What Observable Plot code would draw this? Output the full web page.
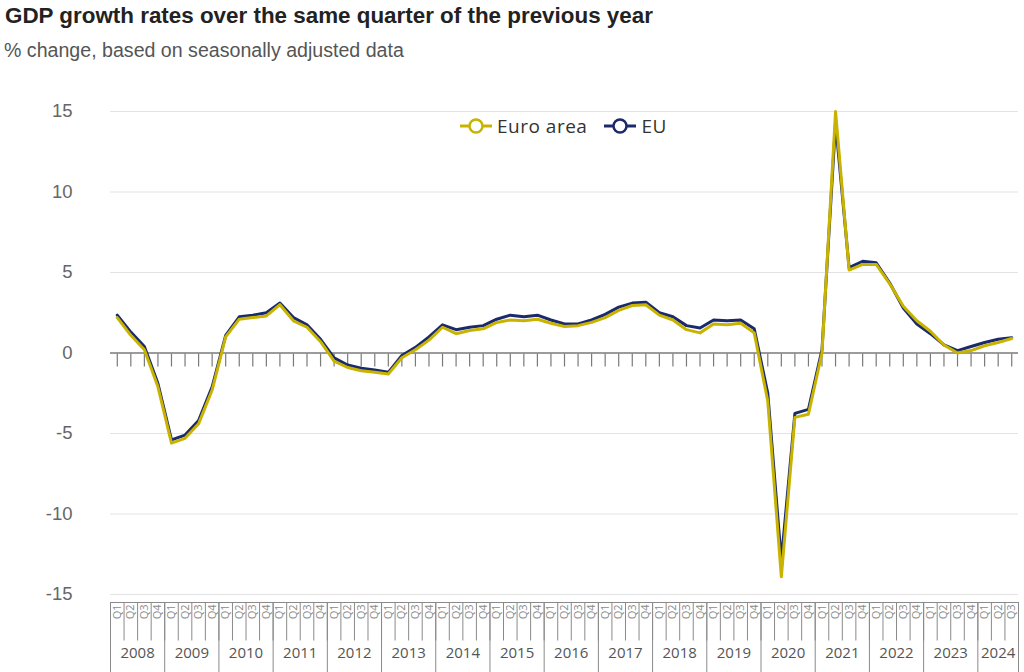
<!DOCTYPE html>
<html>
<head>
<meta charset="utf-8">
<script src="https://cdn.jsdelivr.net/npm/d3@7"></script>
<script src="https://cdn.jsdelivr.net/npm/@observablehq/plot@0.6"></script>
<style>
  html, body { margin: 0; padding: 0; background: #fff; }
  #wrap { position: relative; width: 1024px; height: 672px; overflow: hidden; font-family: "Liberation Sans", Arial, sans-serif; }
  #title { position: absolute; left: 5px; top: 3px; font-size: 22.4px; font-weight: bold; color: #222; white-space: nowrap; }
  #subtitle { position: absolute; left: 4px; top: 39px; font-size: 19.6px; color: #555; white-space: nowrap; }
  #main { position: absolute; left: 0; top: 70px; }
  #bottom { position: absolute; left: 0; top: 602px; }
  #legend { position: absolute; top: 113px; left: 459px; display: flex; align-items: center; font-family: "Open Sans", sans-serif; font-size: 19px; letter-spacing: 0.5px; color: #333; white-space: nowrap; }
  #legend .item { display: flex; align-items: center; margin-right: 16px; }
  #legend svg { margin-right: 4px; }
</style>
</head>
<body>
<div id="wrap">
  <div id="title">GDP growth rates over the same quarter of the previous year</div>
  <div id="subtitle">% change, based on seasonally adjusted data</div>
  <div id="main"></div>
  <div id="bottom"></div>
  <div id="legend"></div>
</div>
<script>
// ---- data ----
const years = [2008, 2009, 2010, 2011, 2012, 2013, 2014, 2015, 2016, 2017, 2018, 2019, 2020, 2021, 2022, 2023, 2024];
const quarterNames = ["Q1", "Q2", "Q3", "Q4"];
const lastYearQuarters = 3;

const seriesNames = ["Euro area", "EU"];
const seriesColors = ["#c8b400", "#1b2a6b"];

const euroArea = [
  2.2, 1.1, 0.2, -2.1,
  -5.6, -5.3, -4.4, -2.3,
  1.0, 2.1, 2.2, 2.3,
  3.0, 2.0, 1.6, 0.7,
  -0.5, -0.9, -1.1, -1.2,
  -1.3, -0.3, 0.2, 0.8,
  1.6, 1.2, 1.4, 1.5,
  1.9, 2.05, 2.0, 2.1,
  1.85, 1.65, 1.7, 1.9,
  2.2, 2.65, 2.95, 3.0,
  2.35, 2.05, 1.45, 1.25,
  1.8, 1.75, 1.85, 1.25,
  -3.0, -13.9, -4.0, -3.8,
  0.0, 15.0, 5.15, 5.5,
  5.5, 4.3, 2.9, 2.0,
  1.35, 0.5, 0.0, 0.15,
  0.45, 0.65, 0.9
];
const eu = [
  2.35, 1.3, 0.4, -1.9,
  -5.4, -5.1, -4.2, -2.1,
  1.1, 2.25, 2.35, 2.5,
  3.1, 2.2, 1.75, 0.85,
  -0.3, -0.75, -0.95, -1.05,
  -1.2, -0.15, 0.35, 1.0,
  1.75, 1.45, 1.6, 1.7,
  2.1, 2.35, 2.25, 2.35,
  2.05, 1.8, 1.8, 2.05,
  2.4, 2.85, 3.1, 3.15,
  2.5, 2.25, 1.7, 1.55,
  2.05, 2.0, 2.05, 1.5,
  -2.5, -12.9, -3.75, -3.5,
  0.2, 14.3, 5.3, 5.7,
  5.6, 4.35, 2.8, 1.8,
  1.2, 0.5, 0.15, 0.4,
  0.65, 0.85, 0.95
];
const yTicks = [-15, -10, -5, 0, 5, 10, 15];

// ---- build tables ----
const periods = [];
years.forEach((y, yi) => {
  const n = yi === years.length - 1 ? lastYearQuarters : 4;
  for (let q = 0; q < n; q++) periods.push({year: y, q: quarterNames[q]});
});
periods.forEach((p, i) => { p.i = i; p.ea = euroArea[i]; p.eu = eu[i]; });
const N = periods.length;
const xDomain = [-0.5, N - 0.5];

const yearInfo = years.map(y => {
  const idx = periods.filter(p => p.year === y).map(p => p.i);
  return {year: y, start: d3.min(idx) - 0.5, end: d3.max(idx) + 0.5, mid: d3.mean(idx)};
});
const quarterEdges = periods.map(p => p.i - 0.5).concat([N - 0.5]);
const yearEdges = yearInfo.map(d => d.start).concat([N - 0.5]);

const W = 1024, ML = 110, MR = 6;

// ---- main chart ----
const main = Plot.plot({
  width: W, height: 548,
  marginLeft: ML, marginRight: MR, marginTop: 41, marginBottom: 24,
  style: {fontFamily: "'Liberation Sans', Arial, sans-serif", fontSize: "18.5px", color: "#666", background: "transparent"},
  x: {domain: xDomain, axis: null},
  y: {domain: [-15, 15], ticks: yTicks, tickSize: 0, tickPadding: 38, label: null, tickFormat: d => String(d)},
  marks: [
    Plot.ruleY(yTicks.filter(t => t !== 0), {stroke: "#e3e3e3", strokeWidth: 1}),
    Plot.ruleY([0], {stroke: "#7a7a7a", strokeWidth: 1.5}),
    Plot.ruleX(periods, {x: "i", y1: () => 0, y2: () => 0, insetTop: 1, insetBottom: -14, stroke: "#7a7a7a", strokeWidth: 1.2}),
    Plot.line(periods, {x: "i", y: "eu", stroke: seriesColors[1], strokeWidth: 3, strokeLinejoin: "round"}),
    Plot.line(periods, {x: "i", y: "ea", stroke: seriesColors[0], strokeWidth: 3, strokeLinejoin: "round"})
  ]
});
document.getElementById("main").appendChild(main);

// ---- bottom category axis ----
const bottom = Plot.plot({
  width: W, height: 70,
  marginLeft: ML, marginRight: MR, marginTop: 0, marginBottom: 0,
  style: {fontFamily: "'Open Sans', sans-serif", color: "#555", background: "transparent"},
  x: {domain: xDomain, axis: null},
  y: {domain: [1, 0], axis: null},
  marks: [
    Plot.ruleY([0], {stroke: "#8a8a8a", strokeWidth: 1}),
    Plot.ruleX(quarterEdges, {x: d => d, y1: () => 0, y2: () => 0.55, stroke: "#8a8a8a", strokeWidth: 1}),
    Plot.ruleX(yearEdges, {x: d => d, y1: () => 0, y2: () => 1, stroke: "#8a8a8a", strokeWidth: 1}),
    Plot.text(periods, {x: "i", y: () => 0, text: "q", rotate: -90, textAnchor: "end", dy: 2, fontSize: 11, fill: "#8a8a8a"}),
    Plot.text(yearInfo, {x: "mid", y: () => 0.73, text: d => String(d.year), fontSize: 15, fill: "#555"})
  ]
});
document.getElementById("bottom").appendChild(bottom);

// ---- legend ----
const legend = document.getElementById("legend");
seriesNames.forEach((name, k) => {
  const item = document.createElement("div");
  item.className = "item";
  item.innerHTML = `<svg width="34" height="18"><line x1="1" y1="9" x2="33" y2="9" stroke="${seriesColors[k]}" stroke-width="3"/><circle cx="17" cy="9" r="6.5" fill="#fff" stroke="${seriesColors[k]}" stroke-width="2.5"/></svg><span>${name}</span>`;
  legend.appendChild(item);
});
</script>
</body>
</html>
